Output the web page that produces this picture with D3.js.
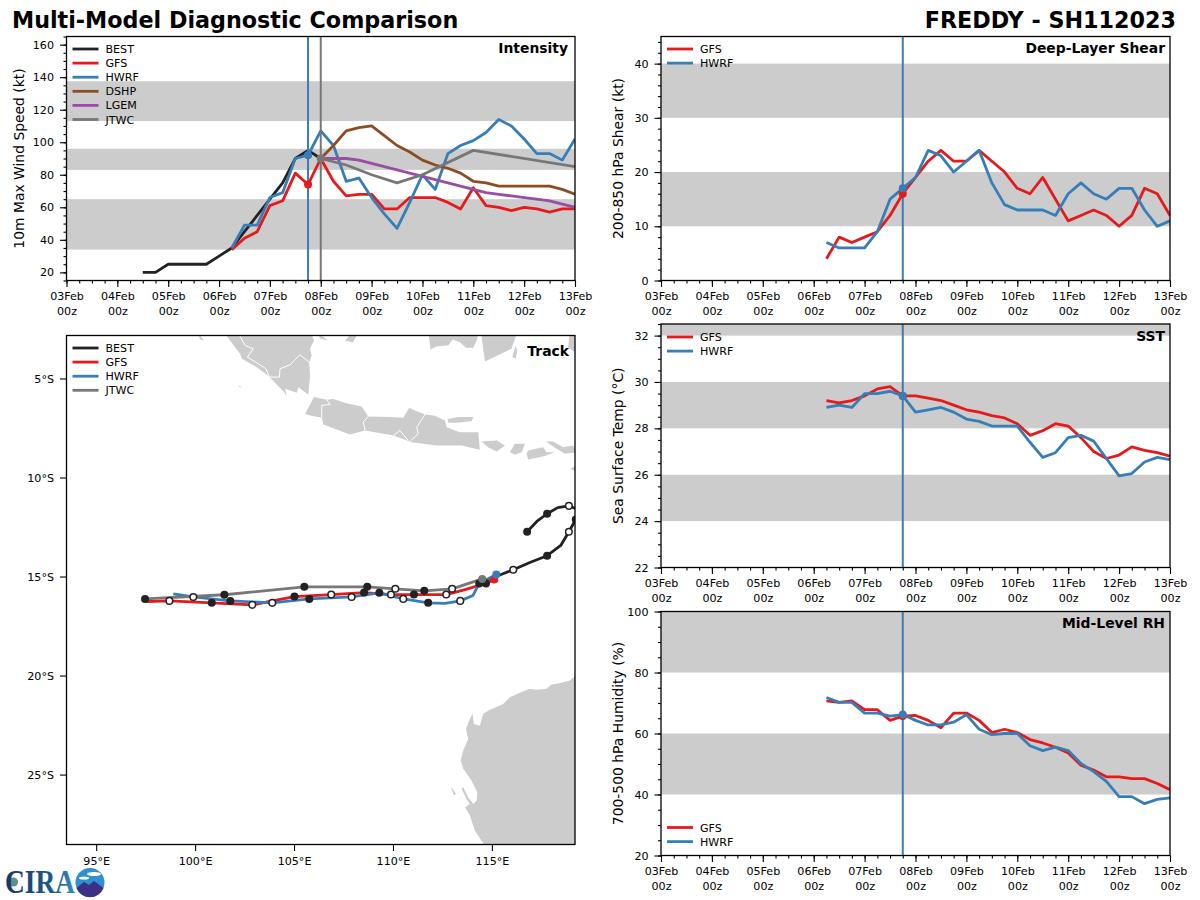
<!DOCTYPE html>
<html>
<head>
<meta charset="utf-8">
<script src="https://cdn.jsdelivr.net/npm/d3@7"></script>
<style>
  html, body { margin: 0; background: #fff; }
  text { font-family: "DejaVu Sans", sans-serif; fill: #000; }
</style>
</head>
<body>
<div id="vis"></div>
<script>
// x axis labels
const dayLabels = ['03Feb','04Feb','05Feb','06Feb','07Feb','08Feb','09Feb','10Feb','11Feb','12Feb','13Feb']

// colors for each source
const colors = {BEST:'#222222', GFS:'#e41a1c', HWRF:'#377eb8', DSHP:'#8c4c24', LGEM:'#984ea3', JTWC:'#777777'}

const initTime = 4.75   // model init, days after 03Feb
const jtwcInitTime = 5

// intensity (kt), 6 hourly
const bestWindStart = 1.5
const bestWind = [20,20,25,25,25,25,30,35,45,55,65,75,90,95,90]
const gfsWindStart = 3.25
const gfsWind = [34,41,45,61,64,81,74,90,76,67,68,68,59,59,66,66,66,63,59,72,61,60,58,60,59,57,59,59]
const hwrfWindStart = 3.25
const hwrfWind = [35,49,49,66,69,90,92,107,98,76,78,66,56,47,63,80,71,93,98,101,106,114,110,102,93,93,89,102]
const dshpWindStart = 5
const dshpWind = [90,98,107,109,110,104,98,94,89,86,84,81,76,75,73,73,73,73,73,71,68]
const lgemWindStart = 5
const lgemWind = [90,90,90,89,87,85,83,81,79,77,75,73,71,69,68,67,66,65,64,62,60]
const jtwcWindTimes = [5,5.5,6,6.5,7,8,10]
const jtwcWind = [90,86,80,75,80,95,85]
const gfsWindInit = 74
const hwrfWindInit = 92
const jtwcWindInit = 90

// the other diagnostics all start 06Feb 06z
const diagStart = 3.25
const gfsShear = [4,8,7,8,9,12,16,19,22,24,22,22,24,22,20,17,16,19,15,11,12,13,12,10,12,17,16,12]
const hwrfShear = [7,6,6,6,9,15,17,19,24,23,20,22,24,18,14,13,13,13,12,16,18,16,15,17,17,13,10,11]
const gfsSst = [29.2,29.1,29.2,29.4,29.7,29.8,29.4,29.4,29.3,29.2,29.0,28.8,28.7,28.55,28.45,28.2,27.7,27.9,28.2,28.1,27.6,27.0,26.7,26.85,27.2,27.05,26.95,26.8]
const hwrfSst = [28.9,29.0,28.9,29.5,29.5,29.6,29.4,28.7,28.8,28.9,28.7,28.4,28.3,28.1,28.1,28.1,27.4,26.75,26.95,27.6,27.7,27.45,26.7,25.95,26.05,26.55,26.75,26.65]
const gfsRh = [70.7,70.2,70.7,67.8,67.8,64.3,65.7,65.9,64.3,61.9,66.7,66.7,64.3,60.3,61.4,60.3,58,56.9,55.5,53.6,49.6,48,45.8,45.8,45.2,45.2,43.6,41.6]
const hwrfRh = [71.8,70.2,70.2,66.7,66.7,65.7,66.2,64.3,62.8,62.8,63.7,66.2,61.4,59.6,60,60,56,54.4,55.5,54.4,50.2,47.5,44.3,39.3,39.3,37,38.4,38.9]

// grey bands behind each panel
const windBands = [[34,65],[83,96],[113,137.5]]
const shearBands = [[10,20],[30,40]]
const sstBands = [[24,26],[28,30],[32,33]]
const rhBands = [[40,60],[80,100]]

// tracks: lon, lat, marker (1 = filled, 0 = open, null = none)
const bestTrack = [[116.78,-12.74,1],[117.27,-12.22,null],[117.79,-11.83,1],[118.33,-11.52,null],[118.89,-11.43,0],[119.49,-11.67,null],[119.55,-11.92,null],[119.24,-12.12,1],[118.89,-12.74,0],[118.48,-13.43,null],[117.79,-13.95,1],[116.92,-14.29,null],[116.08,-14.66,0],[115.2,-15,null],[114.55,-15.25,1]]
const gfsTrack = [[115.12,-15.15,null],[114.7,-15.35,1],[113.64,-15.66,null],[112.69,-15.91,0],[111.06,-15.91,1],[109.9,-15.91,0],[108.54,-15.81,1],[106.88,-15.91,0],[105.02,-16.01,1],[102.89,-16.43,0],[100.84,-16.33,1],[98.7,-16.23,0],[97.53,-16.26,null]]
const hwrfTrack = [[115.22,-14.9,null],[114.36,-15.35,1],[114.04,-15.96,null],[113.4,-16.23,0],[112.63,-16.36,null],[111.78,-16.33,1],[110.52,-16.13,0],[109.31,-15.82,1],[107.91,-16.03,0],[105.77,-16.13,1],[103.9,-16.33,0],[101.78,-16.23,1],[99.91,-16.03,0],[98.9,-15.87,null]]
const jtwcTrack = [[114.51,-15.12,null],[112.99,-15.62,0],[111.58,-15.72,1],[110.12,-15.62,0],[108.7,-15.52,1],[105.52,-15.52,1],[101.48,-15.92,1],[97.47,-16.13,1]]

// coastlines, lon/lat
const sumatra = [[101.4,-2.6],[102.27,-3.75],[102.36,-4.01],[103.12,-4.43],[103.7,-4.88],[104.51,-5.69],[104.63,-5.91],[104.55,-5.52],[104.8,-5.61],[105.14,-5.72],[105.22,-5.44],[105.72,-5.82],[105.81,-4.85],[105.77,-4.18],[105.89,-3.84],[105.81,-3.5],[106.01,-3.08],[105.81,-2.6]]
const java = [[105.56,-6.78],[106.01,-5.94],[106.65,-6.08],[106.98,-6.03],[107.66,-6.25],[108.42,-6.41],[108.75,-6.92],[109.85,-6.95],[110.52,-6.98],[110.82,-6.48],[111.11,-6.62],[111.62,-6.82],[112.12,-6.88],[112.63,-7.12],[112.71,-7.46],[113.38,-7.71],[114.31,-7.71],[114.39,-8.6],[113.47,-8.38],[112.21,-8.38],[110.94,-8.22],[110.02,-7.88],[108.59,-7.63],[107.83,-7.83],[106.48,-7.32],[106.4,-6.98],[105.81,-6.87]]
const madura = [[112.76,-7.04],[113.3,-6.95],[114.06,-6.95],[113.98,-7.16],[113.22,-7.24],[112.79,-7.24]]
const bali = [[114.48,-8.18],[115.24,-8.13],[115.66,-8.38],[115.24,-8.69],[114.81,-8.47]]
const lombok = [[116.16,-8.3],[116.67,-8.3],[116.5,-8.72],[116.16,-8.85],[115.91,-8.72]]
const sumbawa = [[116.83,-8.64],[117.59,-8.47],[117.76,-8.72],[118.18,-8.72],[117.68,-8.92],[116.83,-9.09],[116.75,-8.8]]
const sumbawaEast = [[117.73,-8.18],[118.1,-8.18],[118.6,-8.47],[119.1,-8.38],[119.3,-8.72],[118.69,-8.8],[118.27,-8.55]]
const sumba = [[118.94,-9.56],[119.3,-9.4],[119.3,-9.73]]
const borneoWest = [[111.78,-2.6],[111.9,-3.54],[112.21,-3.37],[112.79,-3.33],[113.02,-3.03],[113.38,-3.17],[113.69,-3.45],[114.06,-3.45],[114.23,-3.08],[114.34,-2.6]]
const borneoEast = [[114.44,-2.6],[114.56,-3.5],[114.65,-4.14],[115.99,-3.5],[116.2,-2.91],[116.25,-2.6]]
const laut = [[116.03,-3.92],[116.2,-3.33],[116.28,-3.59],[116.21,-4]]
const sulawesi = [[118.85,-3.42],[118.94,-2.6],[119.4,-2.6],[119.4,-3.84]]
const mentawai = [[100.15,-2.7],[100.45,-3.08],[100.25,-3.03]]
const enggano = [[102.17,-5.35],[102.37,-5.44],[102.27,-5.45]]
const belitungW = [[106.21,-2.7],[106.72,-3.08],[106.31,-2.98]]
const bangka = [[107.58,-3.08],[107.83,-2.8],[108.18,-2.8],[107.98,-3.18]]
const dirkHartog = [[112.91,-25.56],[113.18,-25.97],[113.08,-26.06]]
const australia = [[120,-19.9],[119.23,-20],[118.94,-20.25],[118.43,-20.39],[118.02,-20.45],[117.76,-20.67],[117.26,-20.72],[116.92,-20.67],[116.58,-20.79],[115.91,-21.1],[115.57,-21.43],[114.9,-21.73],[114.56,-21.93],[114.39,-22.53],[114.09,-22.44],[114.02,-21.93],[113.85,-22.27],[113.69,-22.69],[113.8,-23.2],[113.55,-23.79],[113.42,-24.29],[113.55,-24.71],[113.97,-25.3],[114.26,-25.89],[114.23,-26.31],[114.06,-26.48],[113.8,-26.15],[113.55,-25.64],[113.47,-25.72],[113.72,-26.23],[113.89,-26.48],[113.64,-26.65],[113.89,-27.07],[114.14,-27.83],[114.65,-28.6],[120,-28.6]]
const landShapes = [sumatra,java,madura,bali,lombok,sumbawa,sumbawaEast,sumba,borneoWest,borneoEast,laut,sulawesi,mentawai,enggano,belitungW,bangka,dirkHartog,australia]

// white province lines
const sumatraBorder = [[102.11,-2.6],[102.53,-3.33],[102.94,-3.5],[102.64,-3.92],[103.2,-4.26],[103.59,-4.51],[103.75,-4.93],[104.26,-4.93],[104.29,-4.51],[104.8,-4.31],[105.3,-3.8],[105.81,-4.21]]
const javaBorderW = [[106.4,-6.98],[106.4,-6.36],[106.82,-6.31],[106.65,-6.08]]
const javaBorderMid = [[108.59,-7.63],[108.5,-7.2],[108.75,-6.92]]
const javaBorderE = [[111.62,-6.82],[111.2,-7.46],[111.28,-7.79],[110.86,-8.17]]
const jogjaBorder = [[110.02,-7.88],[110.35,-7.63],[110.77,-8.13]]
const borderLines = [sumatraBorder,javaBorderW,javaBorderMid,javaBorderE,jogjaBorder]

const lonTicks = [95,100,105,110,115]
const latTicks = [-5,-10,-15,-20,-25]

// setup svg
const svg = d3.select('#vis').append('svg')
    .attr('width', 1200)
    .attr('height', 900)
    .style('display', 'block')

const lineW = 2.8
const majorTick = 6.5
const minorTick = 3
const tickPad = 6
let clipCount = 0

function addFrame(g, w, h) {
    const id = 'clip' + (clipCount++)
    g.append('clipPath').attr('id', id)
        .append('rect').attr('width', w).attr('height', h)
    return id
}

function styleAxis(sel) {
    sel.select('.domain').remove()
    sel.selectAll('line').attr('stroke', '#000').attr('stroke-width', 1.1)
    sel.selectAll('text').style('font-size', '11.1px').attr('fill', '#000')
}

function drawLegend(g, names, x0, y0) {
    names.forEach((name, i) => {
        const y = y0 + i * 14.1
        g.append('line')
            .attr('x1', x0).attr('x2', x0 + 26)
            .attr('y1', y).attr('y2', y)
            .attr('stroke', colors[name])
            .attr('stroke-width', lineW)
        g.append('text')
            .attr('x', x0 + 33).attr('y', y + 4)
            .style('font-size', '11.1px')
            .text(name)
    })
}

function drawTimePanel(p) {
    const w = p.right - p.left
    const h = p.bottom - p.top
    const g = svg.append('g').attr('transform', `translate(${p.left},${p.top})`)
    const clip = addFrame(g, w, h)

    const xScale = d3.scaleLinear().domain([0, 10]).range([0, w])
    const yScale = d3.scaleLinear().domain(p.yDomain).range([h, 0])

    const plot = g.append('g').attr('clip-path', `url(#${clip})`)

    // bands
    plot.selectAll('rect.band')
        .data(p.bands)
        .join('rect')
        .attr('class', 'band')
        .attr('x', 0)
        .attr('width', w)
        .attr('y', d => yScale(d[1]))
        .attr('height', d => yScale(d[0]) - yScale(d[1]))
        .attr('fill', '#cccccc')

    // series
    const line = d3.line().x(d => xScale(d.t)).y(d => yScale(d.v))
    p.series.forEach(s => {
        const pts = s.values.map((v, i) => ({
            t: s.times ? s.times[i] : s.start + i * 0.25,
            v: v
        }))
        plot.append('path')
            .attr('d', line(pts))
            .attr('fill', 'none')
            .attr('stroke', colors[s.name])
            .attr('stroke-width', lineW)
            .attr('stroke-linejoin', 'round')
    })

    // init lines and dots
    p.vlines.forEach(v => {
        plot.append('line')
            .attr('x1', xScale(v.t)).attr('x2', xScale(v.t))
            .attr('y1', 0).attr('y2', h)
            .attr('stroke', colors[v.name])
            .attr('stroke-width', 2)
    })
    p.dots.forEach(d => {
        plot.append('circle')
            .attr('cx', xScale(d.t))
            .attr('cy', yScale(d.v))
            .attr('r', 4)
            .attr('fill', colors[d.name])
    })

    // axes
    const xMinor = d3.axisBottom(xScale).tickValues(d3.range(0, 10.01, 0.25)).tickSize(minorTick).tickFormat('')
    g.append('g').attr('transform', `translate(0,${h})`).call(xMinor).call(styleAxis)
    const xAxis = d3.axisBottom(xScale).tickValues(d3.range(0, 11)).tickSize(majorTick).tickFormat(i => dayLabels[i])
    const xg = g.append('g').attr('transform', `translate(0,${h})`).call(xAxis).call(styleAxis)
    xg.selectAll('.tick text').each(function(i) {
        const t = d3.select(this)
        t.text(null)
        t.append('tspan').attr('x', 0).attr('y', 12).attr('dy', '0.71em').text(dayLabels[i])
        t.append('tspan').attr('x', 0).attr('y', 27).attr('dy', '0.71em').text('00z')
    })

    const yMinor = d3.axisLeft(yScale).tickValues(p.yMinor).tickSize(minorTick).tickFormat('')
    g.append('g').call(yMinor).call(styleAxis)
    const yAxis = d3.axisLeft(yScale).tickValues(p.yTicks).tickSize(majorTick).tickPadding(tickPad)
    g.append('g').call(yAxis).call(styleAxis)

    g.append('rect')
        .attr('width', w).attr('height', h)
        .attr('fill', 'none')
        .attr('stroke', '#000')
        .attr('stroke-width', 1.3)

    g.append('text')
        .attr('transform', `translate(${-p.labelGap},${h / 2}) rotate(-90)`)
        .attr('text-anchor', 'middle')
        .style('font-size', '13.9px')
        .text(p.yLabel)

    g.append('text')
        .attr('x', w - p.titleGap)
        .attr('y', 16.5)
        .attr('text-anchor', 'end')
        .style('font-size', '13.9px')
        .style('font-weight', 'bold')
        .text(p.title)

    drawLegend(g, p.legend, 6, p.legendY)
}

drawTimePanel({
    left: 66.5, right: 575, top: 36.5, bottom: 280.5,
    yDomain: [15, 165],
    yTicks: d3.range(20, 161, 20),
    yMinor: d3.range(15, 166, 5),
    bands: windBands,
    series: [
        {name: 'BEST', start: bestWindStart, values: bestWind},
        {name: 'GFS', start: gfsWindStart, values: gfsWind},
        {name: 'HWRF', start: hwrfWindStart, values: hwrfWind},
        {name: 'DSHP', start: dshpWindStart, values: dshpWind},
        {name: 'LGEM', start: lgemWindStart, values: lgemWind},
        {name: 'JTWC', times: jtwcWindTimes, values: jtwcWind}
    ],
    vlines: [{name: 'HWRF', t: initTime}, {name: 'JTWC', t: jtwcInitTime}],
    dots: [
        {name: 'GFS', t: initTime, v: gfsWindInit},
        {name: 'HWRF', t: initTime, v: hwrfWindInit},
        {name: 'JTWC', t: jtwcInitTime, v: jtwcWindInit}
    ],
    yLabel: '10m Max Wind Speed (kt)',
    labelGap: 42.5,
    title: 'Intensity',
    titleGap: 7,
    legend: ['BEST','GFS','HWRF','DSHP','LGEM','JTWC'],
    legendY: 12.5
})

drawTimePanel({
    left: 661, right: 1170, top: 36.5, bottom: 280.5,
    yDomain: [0, 45],
    yTicks: d3.range(0, 41, 10),
    yMinor: d3.range(0, 45.1, 2),
    bands: shearBands,
    series: [
        {name: 'GFS', start: diagStart, values: gfsShear},
        {name: 'HWRF', start: diagStart, values: hwrfShear}
    ],
    vlines: [{name: 'HWRF', t: initTime}],
    dots: [
        {name: 'GFS', t: initTime, v: gfsShear[6]},
        {name: 'HWRF', t: initTime, v: hwrfShear[6]}
    ],
    yLabel: '200-850 hPa Shear (kt)',
    labelGap: 38,
    title: 'Deep-Layer Shear',
    titleGap: 5,
    legend: ['GFS','HWRF'],
    legendY: 12.5
})

drawTimePanel({
    left: 661, right: 1170, top: 324, bottom: 567.5,
    yDomain: [22, 32.5],
    yTicks: d3.range(22, 33, 2),
    yMinor: d3.range(22, 32.6, 0.5),
    bands: sstBands,
    series: [
        {name: 'GFS', start: diagStart, values: gfsSst},
        {name: 'HWRF', start: diagStart, values: hwrfSst}
    ],
    vlines: [{name: 'HWRF', t: initTime}],
    dots: [
        {name: 'GFS', t: initTime, v: gfsSst[6]},
        {name: 'HWRF', t: initTime, v: hwrfSst[6]}
    ],
    yLabel: 'Sea Surface Temp (°C)',
    labelGap: 38,
    title: 'SST',
    titleGap: 5,
    legend: ['GFS','HWRF'],
    legendY: 13
})

drawTimePanel({
    left: 661, right: 1170, top: 611.5, bottom: 855.5,
    yDomain: [20, 100],
    yTicks: d3.range(20, 101, 20),
    yMinor: d3.range(20, 100.1, 5),
    bands: rhBands,
    series: [
        {name: 'GFS', start: diagStart, values: gfsRh},
        {name: 'HWRF', start: diagStart, values: hwrfRh}
    ],
    vlines: [{name: 'HWRF', t: initTime}],
    dots: [
        {name: 'GFS', t: initTime, v: gfsRh[6]},
        {name: 'HWRF', t: initTime, v: hwrfRh[6]}
    ],
    yLabel: '700-500 hPa Humidity (%)',
    labelGap: 38,
    title: 'Mid-Level RH',
    titleGap: 5,
    legend: ['GFS','HWRF'],
    legendY: 216
})

// track panel
function drawTrackPanel() {
    const left = 66.5, right = 575, top = 335.5, bottom = 844.5
    const w = right - left
    const h = bottom - top
    const g = svg.append('g').attr('transform', `translate(${left},${top})`)
    const clip = addFrame(g, w, h)

    const lonScale = d3.scaleLinear().domain([93.5, 119.2]).range([0, w])
    const latScale = d3.scaleLinear().domain([-28.53, -2.83]).range([h, 0])

    const plot = g.append('g').attr('clip-path', `url(#${clip})`)
    const geo = d3.line().x(d => lonScale(d[0])).y(d => latScale(d[1]))

    plot.selectAll('path.land')
        .data(landShapes)
        .join('path')
        .attr('class', 'land')
        .attr('d', d => geo(d) + 'Z')
        .attr('fill', '#cccccc')

    plot.selectAll('path.border')
        .data(borderLines)
        .join('path')
        .attr('class', 'border')
        .attr('d', geo)
        .attr('fill', 'none')
        .attr('stroke', '#fff')
        .attr('stroke-width', 1)

    const tracks = [
        {name: 'BEST', pts: bestTrack},
        {name: 'GFS', pts: gfsTrack},
        {name: 'HWRF', pts: hwrfTrack},
        {name: 'JTWC', pts: jtwcTrack}
    ]

    tracks.forEach(t => {
        plot.append('path')
            .attr('d', geo(t.pts))
            .attr('fill', 'none')
            .attr('stroke', colors[t.name])
            .attr('stroke-width', lineW)
            .attr('stroke-linejoin', 'round')
    })

    // day and night markers
    tracks.forEach(t => {
        plot.selectAll('circle.m' + t.name)
            .data(t.pts.filter(d => d[2] !== null))
            .join('circle')
            .attr('class', 'm' + t.name)
            .attr('cx', d => lonScale(d[0]))
            .attr('cy', d => latScale(d[1]))
            .attr('r', d => d[2] ? 4 : 3.3)
            .attr('fill', d => d[2] ? colors.BEST : '#fff')
            .attr('stroke', colors.BEST)
            .attr('stroke-width', d => d[2] ? 0 : 1.5)
    })

    // forecast start positions
    tracks.slice(1).forEach(t => {
        plot.append('circle')
            .attr('cx', lonScale(t.pts[0][0]))
            .attr('cy', latScale(t.pts[0][1]))
            .attr('r', 4)
            .attr('fill', colors[t.name])
    })

    const xAxis = d3.axisBottom(lonScale).tickValues(lonTicks).tickSize(majorTick).tickPadding(tickPad).tickFormat(d => d + '°E')
    g.append('g').attr('transform', `translate(0,${h})`).call(xAxis).call(styleAxis)
    const yAxis = d3.axisLeft(latScale).tickValues(latTicks).tickSize(majorTick).tickPadding(tickPad).tickFormat(d => (-d) + '°S')
    g.append('g').call(yAxis).call(styleAxis)

    g.append('rect')
        .attr('width', w).attr('height', h)
        .attr('fill', 'none')
        .attr('stroke', '#000')
        .attr('stroke-width', 1.3)

    g.append('text')
        .attr('x', w - 6)
        .attr('y', 20)
        .attr('text-anchor', 'end')
        .style('font-size', '13.9px')
        .style('font-weight', 'bold')
        .text('Track')

    drawLegend(g, ['BEST','GFS','HWRF','JTWC'], 6, 12.5)
}
drawTrackPanel()

// main titles
svg.append('text')
    .attr('x', 12).attr('y', 28)
    .style('font-size', '22.25px')
    .style('font-weight', 'bold')
    .text('Multi-Model Diagnostic Comparison')

svg.append('text')
    .attr('x', 1176).attr('y', 28)
    .attr('text-anchor', 'end')
    .style('font-size', '22.25px')
    .style('font-weight', 'bold')
    .text('FREDDY - SH112023')

// CIRA logo, rough redraw
const logo = svg.append('g')
const logoDefs = logo.append('defs')
const grad = logoDefs.append('linearGradient')
    .attr('id', 'ciraBlue')
    .attr('x1', 0).attr('x2', 1).attr('y1', 0).attr('y2', 0)
grad.append('stop').attr('offset', 0).attr('stop-color', '#17365f')
grad.append('stop').attr('offset', 0.7).attr('stop-color', '#1f5b93')
grad.append('stop').attr('offset', 1).attr('stop-color', '#3a8cc8')

logo.append('circle').attr('cx', 13.5).attr('cy', 882).attr('r', 4.5).attr('fill', '#5f8f86')
logo.append('text')
    .attr('transform', 'translate(5,893) scale(0.98,1.2)')
    .style('font-family', '"Liberation Serif", serif')
    .style('font-size', '28px')
    .style('font-weight', 'bold')
    .style('fill', 'url(#ciraBlue)')
    .text('CIRA')
logo.append('circle').attr('cx', 90).attr('cy', 882.5).attr('r', 14.5).attr('fill', '#2f8fd0')
logo.append('ellipse').attr('cx', 94).attr('cy', 874).attr('rx', 7).attr('ry', 2).attr('fill', '#fff')
logo.append('ellipse').attr('cx', 84).attr('cy', 878).attr('rx', 5).attr('ry', 1.5).attr('fill', '#fff')
logo.append('path')
    .attr('d', 'M76.5,888 L84,882 L89,885 L94,881 L103.5,888 A14.5,14.5 0 0 1 76.5,888 Z')
    .attr('fill', '#3c2f86')
</script>
</body>
</html>
